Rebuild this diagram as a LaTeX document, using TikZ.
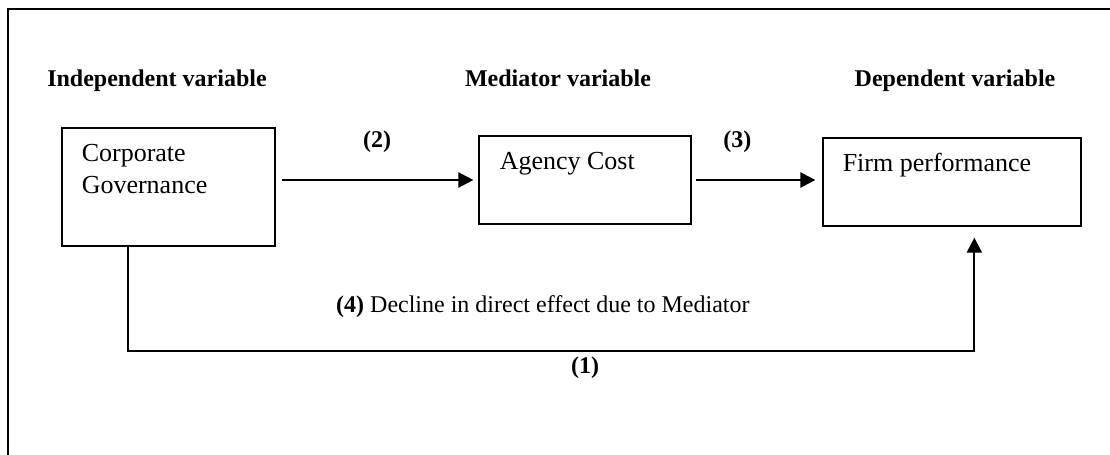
\documentclass[tikz,border=0pt]{standalone}
\usepackage{fontspec}
\setmainfont{Liberation Serif}
\usepackage{tikz}
\usetikzlibrary{arrows.meta,positioning,calc}

\begin{document}
\begin{tikzpicture}[
  x=0.5pt,y=-0.5pt,
  varbox/.style={draw=black,line width=0.65pt,inner sep=0pt},
  boxtext/.style={font=\fontsize{13}{16}\selectfont,align=left,inner sep=0pt,
                  anchor=base west},
  head/.style={font=\fontsize{12}{14}\selectfont\bfseries,inner sep=0pt,anchor=base},
  lbl/.style={font=\fontsize{12}{14}\selectfont\bfseries,inner sep=0pt},
  arr/.style={-{Triangle[length=7.5pt,width=7.5pt]},line width=1.3pt,draw=black}]

  \useasboundingbox (0,0) rectangle (1110,455);
  % outer frame (only top and left edges show)
  \draw[line width=1pt] (1112,9) -| (8,457);

  \node[varbox,minimum width=106.5pt,minimum height=59pt] (cg) at (168.5,187) {};
  \node[varbox,minimum width=106pt,minimum height=44pt] (ag) at (585,180) {};
  \node[varbox,minimum width=129pt,minimum height=44pt] (fp) at (952,182) {};

  % base of a two-line node is its last line
  \node[boxtext] (cgtext) at ($(cg.north west)+(20,66)$) {Corporate\\Governance};
  \node[boxtext] (agtext) at ($(ag.north west)+(21,34)$) {Agency Cost};
  \node[boxtext] (fptext) at ($(fp.north west)+(20,34)$) {Firm performance};

  \node[head] (indep) at (157,86) {Independent variable};
  \node[head] (med) at (558,86) {Mediator variable};
  \node[head] (dep) at (955,86) {Dependent variable};

  \draw[arr,shorten <=3pt,shorten >=2.5pt] (cg.east |- ag.west)
        -- node[lbl,above=13pt] {(2)} (ag.west);
  \draw[arr,shorten <=2pt,shorten >=3.5pt] (ag.east)
        -- node[lbl,above=13pt,pos=0.35] {(3)} (ag.east -| fp.west);

  \draw[arr,line width=1pt,shorten >=5.5pt] ([xshift=33.5pt]cg.south west) -- ++(0,104)
        -| node[lbl,below=2.5pt,pos=0.27] {(1)}
           node[font=\fontsize{12}{14}\selectfont,inner sep=0pt,above=16pt,pos=0.245]
           {\textbf{(4)} Decline in direct effect due to Mediator}
        ([xshift=76pt]fp.south west);
\end{tikzpicture}
\end{document}
